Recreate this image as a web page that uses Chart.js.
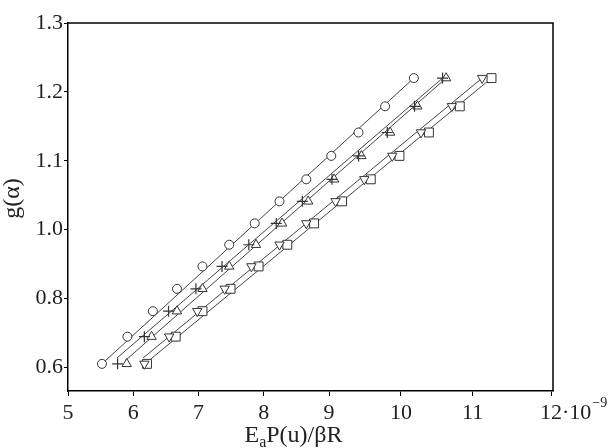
<!DOCTYPE html>
<html><head><meta charset="utf-8">
<script src="https://cdn.jsdelivr.net/npm/chart.js@4/dist/chart.umd.min.js"></script>
<style>html,body{margin:0;padding:0;background:#fff}#wrap{width:610px;height:448px}</style>
</head><body><div id="wrap"><canvas id="c" width="610" height="448"></canvas></div>
<script>
// ---- data (values as read in the units printed on the axes) ----
const xTickLabels = [5, 6, 7, 8, 9, 10, 11, 12];
const yTickLabels = [0.6, 0.8, 1.0, 1.1, 1.2, 1.3];
const gAlpha = [1.220, 1.179, 1.141, 1.107, 1.073, 1.041, 1.009, 0.956, 0.893, 0.828, 0.763, 0.689, 0.610];
const xCircle   = [10.18, 9.78, 9.41, 9.03, 8.65, 8.24, 7.86, 7.47, 7.06, 6.67, 6.30, 5.91, 5.52];
const xPlus     = [10.58, 10.19, 9.81, 9.41, 9.04, 8.59, 8.19, 7.77, 7.36, 6.96, 6.54, 6.17, 5.76];
const xTriangle = [10.63, 10.23, 9.85, 9.45, 9.07, 8.68, 8.28, 7.88, 7.47, 7.06, 6.67, 6.28, 5.90];
const xNabla    = [11.12, 10.71, 10.28, 9.88, 9.49, 9.09, 8.65, 8.24, 7.81, 7.40, 6.98, 6.55, 6.17];
const xSquare   = [11.24, 10.82, 10.39, 9.98, 9.58, 9.18, 8.77, 8.36, 7.92, 7.49, 7.06, 6.65, 6.21];
// fitted straight lines: [start, end]
const fitCircleX = [5.52, 10.18],   fitCircleY = [0.610, 1.220];
const fitPlusX = [5.75, 10.58],     fitPlusY = [0.627, 1.220];
const fitTriangleX = [5.88, 10.63], fitTriangleY = [0.620, 1.220];
const fitNablaX = [6.15, 11.12],    fitNablaY = [0.627, 1.220];
const fitSquareX = [6.21, 11.24],   fitSquareY = [0.615, 1.220];

// ---- axis layout: the printed axes are not evenly graduated; tick positions on the drawn scale ----
const X_TICK_POS = [5, 6, 7, 8, 9, 10.1, 11.2, 12.4];
const Y_TICK_POS = [0.8, 0.9, 1.0, 1.1, 1.2, 1.3];
function warp(v, labels, pos) {
  let i = 0;
  while (i < labels.length - 2 && v > labels[i + 1]) i++;
  const t = (v - labels[i]) / (labels[i + 1] - labels[i]);
  return pos[i] + t * (pos[i + 1] - pos[i]);
}
const wx = v => warp(v, xTickLabels, X_TICK_POS);
const wy = v => warp(v, yTickLabels, Y_TICK_POS);
const pts = (xs, ys) => xs.map((x, i) => ({x: wx(x), y: wy(ys[i])}));

const INK = '#333';
const markerBase = {showLine: false, borderColor: INK, backgroundColor: '#fff', borderWidth: 1, order: 1};
const lineBase = {showLine: true, borderColor: '#444', borderWidth: 1, pointRadius: 0, fill: false, order: 10};

const SERIF = "'Liberation Serif', 'DejaVu Serif', serif";

const framePlugin = {
  id: 'frame',
  afterDraw(chart) {
    const {ctx, chartArea: a} = chart;
    ctx.save();
    ctx.strokeStyle = '#000';
    ctx.lineWidth = 1.5;
    ctx.beginPath();
    ctx.moveTo(a.left, a.top); ctx.lineTo(a.right, a.top); ctx.lineTo(a.right, a.bottom);
    ctx.stroke();
    // x title with subscript
    ctx.fillStyle = '#222';
    ctx.textBaseline = 'alphabetic';
    ctx.textAlign = 'left';
    const big = '24px ' + SERIF, small = '16px ' + SERIF;
    ctx.font = big; const wE = ctx.measureText('E').width; const wRest = ctx.measureText('P(u)/βR').width;
    ctx.font = small; const wa = ctx.measureText('a').width;
    let x0 = 293.5 - (wE + wa + wRest) / 2;
    const base = 442;
    ctx.font = big; ctx.fillText('E', x0, base);
    ctx.font = small; ctx.fillText('a', x0 + wE, base + 5);
    ctx.font = big; ctx.fillText('P(u)/βR', x0 + wE + wa, base);
    // y title
    ctx.save();
    ctx.translate(19, 198.5);
    ctx.rotate(-Math.PI / 2);
    ctx.textAlign = 'center';
    ctx.font = big;
    ctx.fillText('g(α)', 0, 0);
    ctx.restore();
    // exponent after last x tick
    const xs = chart.scales.x;
    const px = xs.getPixelForValue(X_TICK_POS[X_TICK_POS.length - 1]);
    ctx.font = '22px ' + SERIF;
    const w12 = ctx.measureText('12').width;
    const sx = px + w12 / 2;
    ctx.fillText('·10', sx, 419);
    const w10 = ctx.measureText('·10').width;
    ctx.font = '14px ' + SERIF;
    ctx.fillText('−9', sx + w10 + 1, 407);
    ctx.restore();
  }
};

new Chart(document.getElementById('c'), {
  type: 'scatter',
  data: {
    datasets: [
      {...markerBase, label: 'circle', data: pts(xCircle, gAlpha), pointStyle: 'circle', pointRadius: 4.5},
      {...markerBase, label: 'plus', data: pts(xPlus, gAlpha), pointStyle: 'cross', pointRadius: 5.5, borderWidth: 1.2},
      {...markerBase, label: 'triangle', data: pts(xTriangle, gAlpha), pointStyle: 'triangle', pointRadius: 5.4},
      {...markerBase, label: 'nabla', data: pts(xNabla, gAlpha), pointStyle: 'triangle', pointRotation: 180, pointRadius: 5.4},
      {...markerBase, label: 'square', data: pts(xSquare, gAlpha), pointStyle: 'rect', pointRadius: 6.3},
      {...lineBase, label: 'fit1', data: pts(fitCircleX, fitCircleY)},
      {...lineBase, label: 'fit2', data: pts(fitPlusX, fitPlusY)},
      {...lineBase, label: 'fit3', data: pts(fitTriangleX, fitTriangleY)},
      {...lineBase, label: 'fit4', data: pts(fitNablaX, fitNablaY)},
      {...lineBase, label: 'fit5', data: pts(fitSquareX, fitSquareY)}
    ]
  },
  options: {
    responsive: false,
    animation: false,
    devicePixelRatio: 1,
    layout: {padding: {top: 23, right: 57, left: 0, bottom: 0}},
    plugins: {legend: {display: false}, tooltip: {enabled: false}},
    scales: {
      x: {
        type: 'linear', min: 5, max: 12.43,
        afterBuildTicks(axis) { axis.ticks = X_TICK_POS.map(v => ({value: v})); },
        afterFit(axis) { axis.height = 57; },
        ticks: {
          autoSkip: false, maxRotation: 0, padding: 4, color: '#222',
          font: {family: SERIF, size: 22},
          callback: (v, i) => String(xTickLabels[i])
        },
        grid: {display: true, drawOnChartArea: false, drawTicks: true, tickLength: 5, color: '#000', lineWidth: 1},
        border: {display: true, color: '#000', width: 1.5}
      },
      y: {
        type: 'linear', min: 0.7656, max: 1.3,
        afterBuildTicks(axis) { axis.ticks = Y_TICK_POS.map(v => ({value: v})); },
        afterFit(axis) { axis.width = 68; },
        ticks: {
          autoSkip: false, padding: 1, color: '#222',
          font: {family: SERIF, size: 22},
          callback: (v, i) => yTickLabels[i].toFixed(1)
        },
        grid: {display: true, drawOnChartArea: false, drawTicks: true, tickLength: 4, color: '#000', lineWidth: 1},
        border: {display: true, color: '#000', width: 1.5}
      }
    }
  },
  plugins: [framePlugin]
});
</script>
</body></html>
